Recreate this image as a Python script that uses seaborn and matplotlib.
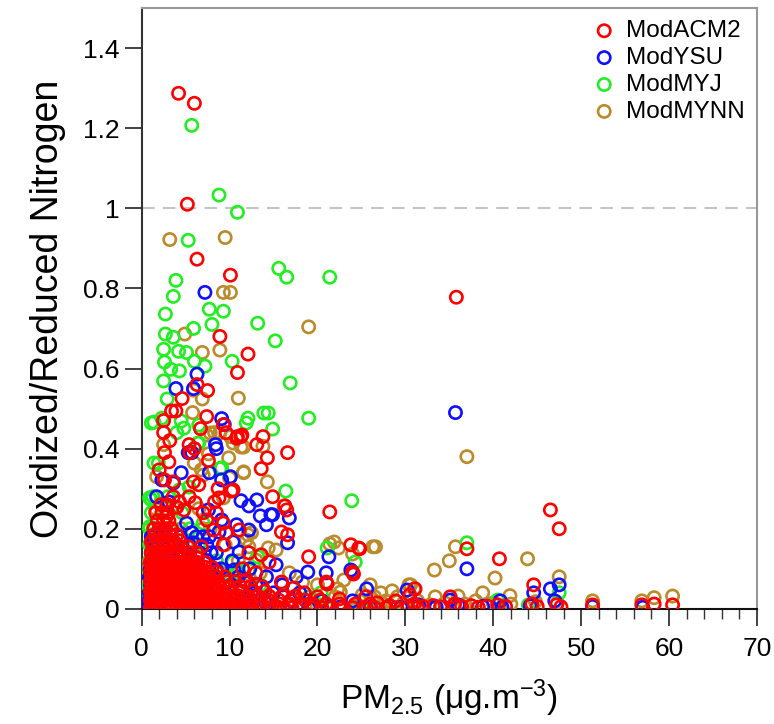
import matplotlib
matplotlib.use("Agg")
import matplotlib.pyplot as plt
import numpy as np
import pandas as pd
import seaborn as sns
from matplotlib.ticker import FixedLocator, MultipleLocator, FuncFormatter

# series names and colours
models = ['ModACM2', 'ModYSU', 'ModMYJ', 'ModMYNN']
colors = ['#ff0000', '#1010ff', '#22ee22', '#bb8a2a']

# dense cores, read row by row: (y, [x values])
acm2_core = [
    (0.003, [1.0, 1.5, 2.0, 2.5, 3.0, 3.5, 4.0, 4.5, 5.0, 5.6, 6.2, 6.8, 7.4, 8.0, 8.7, 9.4, 10.1, 10.9, 11.7, 12.5,
             13.4, 14.3, 15.2, 16.2, 17.1, 18.2, 19.3, 20.5, 21.6, 22.8, 24.0, 25.3, 26.5, 27.8, 29.0, 30.3, 31.4]),
    (0.012, [1.2, 1.7, 2.2, 2.8, 3.3, 3.8, 4.3, 4.8, 5.3, 5.9, 6.5, 7.1, 7.8, 8.5, 9.2, 10.0, 10.8, 11.6, 12.5, 13.5,
             14.6, 15.7, 16.9, 18.0, 19.5, 21.0, 22.5, 24.3, 26.0]),
    (0.022, [1.0, 1.4, 1.9, 2.4, 2.9, 3.4, 3.9, 4.4, 4.9, 5.5, 6.0, 6.6, 7.2, 7.9, 8.6, 9.4, 10.3, 11.2, 12.2, 13.3,
             14.4, 15.6, 17.0, 18.6, 20.3]),
    (0.032, [1.1, 1.6, 2.1, 2.6, 3.1, 3.6, 4.1, 4.6, 5.2, 5.7, 6.3, 6.9, 7.6, 8.3, 9.1, 10.0, 11.0, 12.1, 13.2, 14.5,
             16.0, 17.5]),
    (0.044, [1.0, 1.5, 2.0, 2.5, 3.0, 3.5, 4.0, 4.5, 5.0, 5.6, 6.2, 6.8, 7.5, 8.3, 9.2, 10.2, 11.4, 12.7, 14.0]),
    (0.056, [1.2, 1.7, 2.2, 2.7, 3.2, 3.7, 4.2, 4.8, 5.3, 5.9, 6.5, 7.2, 8.0, 8.9, 10.0, 11.2, 12.4, 13.7]),
    (0.068, [1.0, 1.5, 2.0, 2.5, 3.0, 3.5, 4.0, 4.5, 5.1, 5.7, 6.3, 7.0, 7.8, 8.7, 9.6, 10.6, 11.7]),
    (0.080, [1.2, 1.7, 2.2, 2.7, 3.2, 3.7, 4.3, 4.9, 5.5, 6.1, 6.8, 7.6, 8.5, 9.5]),
    (0.092, [1.0, 1.5, 2.0, 2.5, 3.0, 3.6, 4.1, 4.7, 5.3, 6.0, 6.8, 7.6, 8.5]),
    (0.104, [1.2, 1.7, 2.2, 2.8, 3.3, 3.9, 4.5, 5.1, 5.8, 6.5, 7.2, 8.0]),
    (0.116, [1.0, 1.5, 2.0, 2.5, 3.1, 3.7, 4.3, 5.0, 5.7, 6.4, 7.2]),
    (0.128, [1.2, 1.8, 2.3, 2.9, 3.5, 4.1, 4.8, 5.5, 6.3]),
    (0.140, [1.1, 1.6, 2.2, 2.8, 3.4, 4.0, 4.7, 5.5, 6.3]),
    (0.155, [1.3, 1.9, 2.5, 3.1, 3.8, 4.5, 5.3]),
    (0.170, [1.2, 1.8, 2.4, 3.0, 3.6, 4.3]),
    (0.185, [1.5, 2.1, 2.7, 3.3, 4.0]),
    (0.200, [1.4, 2.0, 2.7, 3.4]),
    (0.220, [1.8, 2.5, 3.1]),
    (0.240, [1.6, 2.3, 3.0]),
    (0.260, [2.2, 2.9]),
]
ysu_core = [
    (0.004, [0.9, 1.3, 3.0, 6.0, 9.0, 12.0, 15.5, 19.0, 22.5, 26.0, 29.5]),
    (0.020, [0.8, 2.5, 5.5, 8.8, 11.5, 14.0, 17.0, 20.5, 24.0]),
    (0.040, [0.9, 3.5, 6.5, 9.5, 12.5, 15.0, 18.0]),
    (0.060, [1.0, 4.5, 7.3, 10.2, 13.0, 16.0]),
    (0.080, [0.9, 5.0, 8.0, 11.0, 14.2]),
    (0.100, [1.0, 4.0, 6.2, 9.0, 12.3]),
    (0.120, [1.2, 3.2, 5.5, 7.5, 10.3]),
    (0.140, [1.1, 2.8, 4.6, 6.6, 8.5]),
    (0.160, [1.6, 3.6, 5.4, 7.4]),
    (0.180, [1.3, 2.7, 4.4, 6.2]),
]
myj_core = [
    (0.005, [1.0, 4.0, 8.0, 12.5, 17.0, 21.0, 25.0, 30.0]),
    (0.030, [0.9, 3.0, 6.5, 10.5, 14.5, 19.0]),
    (0.060, [0.8, 2.5, 5.5, 9.5, 13.5]),
    (0.090, [0.9, 3.5, 7.0, 11.0]),
    (0.120, [1.0, 2.5, 5.0, 8.5]),
    (0.160, [0.9, 2.2, 4.0, 6.5]),
    (0.200, [0.9, 2.0, 3.5, 5.5]),
    (0.240, [1.1, 2.4, 4.6]),
    (0.280, [1.3, 3.0]),
]
mynn_core = [
    (0.005, [1.2, 5.0, 10.0, 15.0, 20.0, 24.5, 28.5, 31.0]),
    (0.030, [1.0, 4.0, 8.5, 13.0, 17.5, 22.0, 26.5, 30.5]),
    (0.060, [0.7, 3.0, 7.0, 11.5, 16.0, 20.0]),
    (0.090, [1.0, 5.0, 9.0, 13.5]),
    (0.120, [0.9, 3.5, 7.5, 11.0]),
    (0.160, [1.1, 2.8, 6.0, 9.5]),
    (0.200, [1.3, 4.5, 7.8]),
    (0.250, [1.6, 3.8, 6.5]),
]

# scattered points (x, y)
acm2_pts = [
    (4.2, 1.287), (6.0, 1.262), (5.2, 1.01), (6.3, 0.873), (10.1, 0.833), (8.9, 0.68), (12.1, 0.636), (10.9, 0.59),
    (6.3, 0.56), (7.5, 0.545), (4.6, 0.525), (3.4, 0.494), (3.9, 0.494), (7.4, 0.48), (2.5, 0.47), (6.7, 0.45),
    (9.3, 0.46), (11.3, 0.43), (10.9, 0.43), (13.8, 0.43), (13.1, 0.41), (16.6, 0.39), (14.3, 0.377), (13.6, 0.35),
    (10.2, 0.294), (14.9, 0.28), (21.4, 0.242), (16.3, 0.257), (16.5, 0.247), (23.8, 0.16), (24.8, 0.15),
    (19.0, 0.13), (21.1, 0.062), (24.1, 0.087), (35.8, 0.778), (46.5, 0.247), (47.5, 0.20), (37.0, 0.15),
    (40.7, 0.125), (44.6, 0.06), (51.3, 0.01), (56.9, 0.01), (58.3, 0.012), (60.4, 0.01), (35.1, 0.03),
    (2.5, 0.44), (3.2, 0.42), (2.6, 0.39), (3.1, 0.367), (5.4, 0.41), (6.0, 0.40), (5.5, 0.39), (7.6, 0.37),
    (9.6, 0.44), (10.8, 0.426), (11.4, 0.434), (2.0, 0.347), (2.6, 0.322), (3.6, 0.317), (5.9, 0.317),
    (6.5, 0.31), (8.7, 0.30), (10.4, 0.297), (8.3, 0.267), (8.8, 0.277), (3.6, 0.28), (4.3, 0.267), (5.4, 0.28),
    (6.1, 0.265), (4.0, 0.254), (4.8, 0.247), (7.0, 0.24), (8.5, 0.24), (7.4, 0.222), (9.3, 0.214), (2.8, 0.23),
    (9.6, 0.19), (8.2, 0.197), (11.1, 0.197), (12.2, 0.14), (1.1, 0.167), (9.3, 0.16), (6.8, 0.155),
    (15.9, 0.192), (16.6, 0.185), (14.5, 0.117), (13.6, 0.135), (15.9, 0.067), (17.3, 0.052), (21.0, 0.067),
    (24.0, 0.092), (24.7, 0.152), (31.1, 0.05), (30.5, 0.035), (28.9, 0.02), (26.8, 0.015), (28.2, 0.008),
    (33.2, 0.008), (34.0, 0.005), (35.6, 0.012), (36.4, 0.006), (37.5, 0.008), (38.3, 0.004), (39.3, 0.007),
    (40.5, 0.01), (41.4, 0.006), (44.4, 0.012), (45.0, 0.006), (47.2, 0.01), (47.7, 0.005), (31.0, 0.012),
    (32.0, 0.006), (13.0, 0.09), (11.5, 0.1), (18.5, 0.04), (20.0, 0.03), (22.5, 0.025), (25.5, 0.03),
]
ysu_pts = [
    (7.2, 0.79), (35.7, 0.49), (6.3, 0.586), (3.9, 0.55), (5.9, 0.55), (9.1, 0.475), (9.4, 0.46), (8.4, 0.41),
    (5.7, 0.39), (7.7, 0.34), (10.1, 0.33), (11.3, 0.27), (12.2, 0.257), (13.1, 0.272), (13.5, 0.232),
    (14.2, 0.21), (14.9, 0.235), (16.8, 0.227), (14.7, 0.235), (16.6, 0.165), (21.3, 0.13), (18.9, 0.092),
    (21.0, 0.09), (23.8, 0.097), (25.6, 0.05), (17.6, 0.08), (37.0, 0.10), (46.5, 0.05), (47.5, 0.06),
    (35.1, 0.022), (44.6, 0.04), (40.8, 0.02), (30.2, 0.047), (8.5, 0.40), (5.3, 0.39), (4.5, 0.34),
    (2.3, 0.322), (3.6, 0.314), (9.1, 0.322), (1.7, 0.28), (3.1, 0.267), (7.6, 0.247), (9.1, 0.222),
    (5.1, 0.214), (10.8, 0.21), (1.1, 0.18), (3.2, 0.185), (7.7, 0.18), (8.8, 0.192), (12.2, 0.197),
    (10.4, 0.167), (5.9, 0.165), (5.7, 0.19), (11.1, 0.142), (10.5, 0.097), (11.9, 0.065), (7.0, 0.18),
    (4.3, 0.13), (8.5, 0.097), (7.9, 0.14), (15.3, 0.11), (33.5, 0.005), (36.0, 0.01), (38.8, 0.006),
    (41.0, 0.004), (44.2, 0.008), (47.0, 0.02), (51.3, 0.006), (57.0, 0.004), (31.5, 0.01),
]
myj_pts = [
    (5.7, 1.207), (8.8, 1.033), (10.9, 0.99), (5.3, 0.92), (3.9, 0.82), (3.6, 0.78), (2.7, 0.736), (7.7, 0.748),
    (9.3, 0.743), (15.6, 0.85), (16.5, 0.828), (21.4, 0.828), (8.0, 0.71), (13.2, 0.713), (5.9, 0.70),
    (2.7, 0.686), (3.6, 0.678), (2.5, 0.648), (4.2, 0.643), (5.1, 0.64), (15.2, 0.669), (10.3, 0.618),
    (6.0, 0.618), (2.6, 0.616), (3.3, 0.598), (4.3, 0.594), (7.2, 0.606), (2.5, 0.569), (2.9, 0.524),
    (16.9, 0.564), (12.1, 0.476), (14.4, 0.489), (14.9, 0.449), (19.0, 0.476), (1.4, 0.466), (2.3, 0.476),
    (4.5, 0.469), (4.8, 0.451), (6.4, 0.414), (6.5, 0.459), (1.9, 0.364), (16.4, 0.294), (23.9, 0.27),
    (1.1, 0.272), (8.9, 0.35), (21.1, 0.152), (13.2, 0.13), (12.2, 0.097), (11.0, 0.10), (20.4, 0.04),
    (37.0, 0.165), (47.5, 0.04), (40.5, 0.022), (44.0, 0.01), (1.4, 0.364), (0.9, 0.277), (1.1, 0.464),
    (4.0, 0.44), (6.5, 0.414), (9.1, 0.352), (4.3, 0.297), (5.4, 0.304), (0.9, 0.205), (7.0, 0.214),
    (11.9, 0.464), (1.1, 0.185), (1.1, 0.142), (9.4, 0.097), (10.4, 0.117), (24.3, 0.117), (13.9, 0.489),
]
mynn_pts = [
    (3.2, 0.922), (9.5, 0.927), (9.3, 0.79), (10.1, 0.79), (19.0, 0.704), (4.9, 0.686), (6.9, 0.64),
    (8.9, 0.646), (11.0, 0.526), (6.9, 0.524), (5.8, 0.49), (5.9, 0.546), (7.8, 0.439), (8.9, 0.439),
    (10.1, 0.43), (11.3, 0.404), (13.8, 0.406), (9.9, 0.377), (7.6, 0.387), (11.6, 0.34), (14.3, 0.317),
    (6.0, 0.364), (7.0, 0.334), (16.2, 0.257), (21.4, 0.162), (22.4, 0.152), (26.3, 0.155), (24.0, 0.137),
    (14.4, 0.152), (12.1, 0.185), (7.0, 0.20), (33.3, 0.097), (35.0, 0.12), (35.7, 0.155), (27.2, 0.04),
    (29.1, 0.03), (30.6, 0.06), (33.4, 0.03), (22.3, 0.05), (37.0, 0.38), (40.2, 0.077), (43.9, 0.125),
    (38.8, 0.04), (41.9, 0.033), (47.5, 0.08), (36.0, 0.032), (51.3, 0.02), (56.9, 0.02), (58.3, 0.028),
    (60.4, 0.032), (26.6, 0.155), (8.3, 0.44), (10.4, 0.414), (11.6, 0.404), (7.4, 0.434), (2.5, 0.41),
    (6.8, 0.347), (11.6, 0.342), (10.0, 0.327), (1.7, 0.33), (9.3, 0.277), (12.5, 0.19), (11.9, 0.172),
    (7.0, 0.18), (0.9, 0.105), (12.2, 0.155), (13.0, 0.122), (15.3, 0.147), (16.8, 0.09), (18.3, 0.067),
    (21.9, 0.167), (23.0, 0.072), (22.6, 0.042), (26.0, 0.06), (25.1, 0.035), (30.4, 0.06), (27.8, 0.02),
    (28.5, 0.045), (29.8, 0.015), (31.0, 0.05), (31.4, 0.02), (24.8, 0.02), (26.2, 0.025), (27.5, 0.012),
    (32.8, 0.01), (34.5, 0.015), (36.8, 0.012), (38.0, 0.02), (40.0, 0.015), (42.0, 0.012), (44.8, 0.018),
    (47.3, 0.015),
]


def to_frame(core, pts):
    xs, ys = [], []
    for y, row in core:
        xs += row
        ys += [y] * len(row)
    for x, y in pts:
        xs.append(x)
        ys.append(y)
    return pd.DataFrame({'pm25': xs, 'ratio': ys})


series = {
    'ModACM2': to_frame(acm2_core, acm2_pts),
    'ModYSU': to_frame(ysu_core, ysu_pts),
    'ModMYJ': to_frame(myj_core, myj_pts),
    'ModMYNN': to_frame(mynn_core, mynn_pts),
}

sns.set_style('ticks')
plt.rcParams['font.family'] = ['Liberation Sans', 'DejaVu Sans']
plt.rcParams['mathtext.fontset'] = 'custom'
plt.rcParams['mathtext.rm'] = 'Liberation Sans'
plt.rcParams['mathtext.default'] = 'regular'
plt.rcParams['text.color'] = 'black'
plt.rcParams['axes.labelcolor'] = 'black'
plt.rcParams['xtick.color'] = 'black'
plt.rcParams['ytick.color'] = 'black'

fig = plt.figure(figsize=(7.74, 7.24), dpi=100)
ax = fig.add_axes([0.183, 0.159, 0.795, 0.830])

# draw MYNN first so ACM2 ends up on top
for name in reversed(models):
    col = colors[models.index(name)]
    sns.scatterplot(data=series[name], x='pm25', y='ratio', ax=ax, marker='o', s=78,
                    color=col, facecolor='none', edgecolor=col, linewidth=1.9,
                    label=name, zorder=3)

ax.axhline(1.0, color='#c4c4c4', linestyle=(0, (6, 4)), linewidth=1.5, zorder=1)

ax.set_xlim(0, 70)
ax.set_ylim(0, 1.5)
ax.xaxis.set_major_locator(MultipleLocator(10))
ax.xaxis.set_minor_locator(MultipleLocator(2))
ax.yaxis.set_major_locator(FixedLocator([0, 0.2, 0.4, 0.6, 0.8, 1.0, 1.2, 1.4]))
ax.yaxis.set_major_formatter(FuncFormatter(lambda v, p: f'{v:g}'))
ax.tick_params(axis='both', which='major', direction='out', length=12, width=1.3,
               labelsize=19, color='#333333', labelcolor='black', pad=4)
ax.tick_params(axis='x', which='major', pad=8)
ax.tick_params(axis='x', which='minor', direction='out', length=7, width=1.0, color='#333333')

ax.spines['left'].set_color('#333333')
ax.spines['bottom'].set_color('#111111')
ax.spines['top'].set_color('#999999')
ax.spines['right'].set_color('#999999')
for sp in ax.spines.values():
    sp.set_linewidth(1.5)

ax.set_xlabel('PM$_{2.5}$ (μg.m$^{-3}$)', fontsize=24, labelpad=12, color='black')
ax.set_ylabel('Oxidized/Reduced Nitrogen', fontsize=27, labelpad=12, color='black')

handles, labels = ax.get_legend_handles_labels()
order = [labels.index(m) for m in models]
leg = ax.legend([handles[i] for i in order], models, loc='upper right', frameon=False,
                fontsize=17.5, handletextpad=0.4, labelspacing=0.2, borderaxespad=0.1,
                handlelength=1.0)
for t in leg.get_texts():
    t.set_color('black')

fig.savefig('out.png', dpi=100)
